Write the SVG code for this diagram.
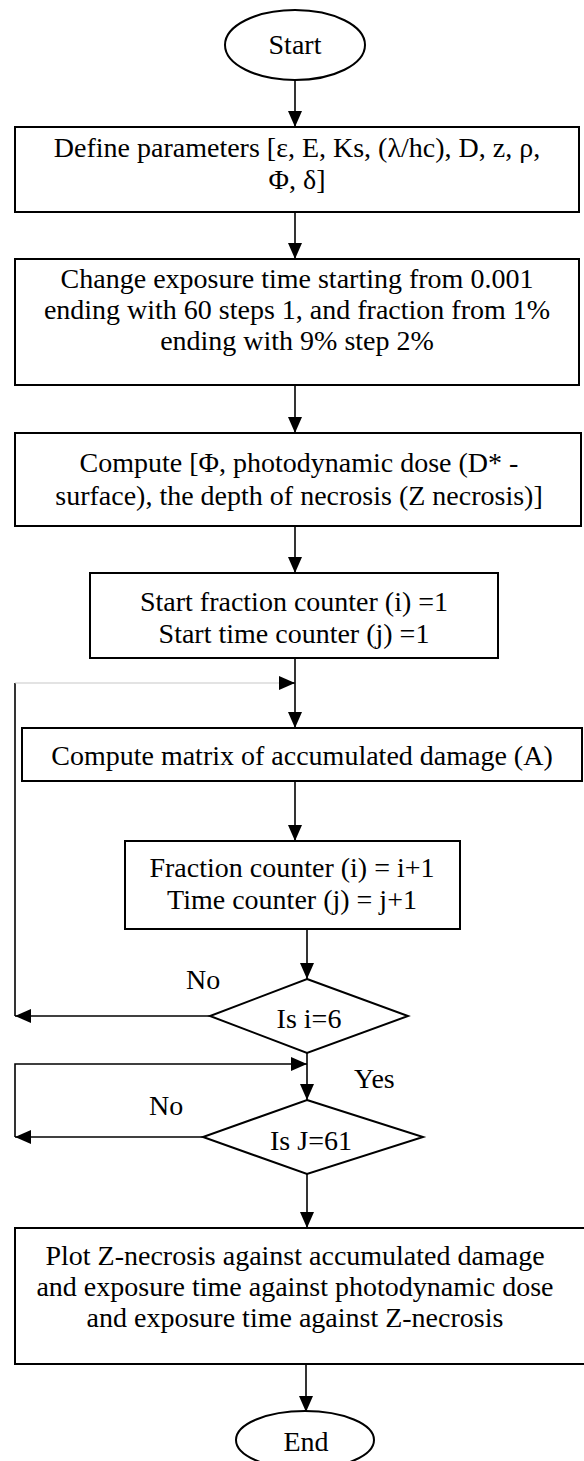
<svg xmlns="http://www.w3.org/2000/svg" width="584" height="1461" viewBox="0 0 584 1461">
<style>
.n{fill:#fff;stroke:#000;stroke-width:2}
.t{font-family:"Liberation Serif","Times New Roman",serif;font-size:28px;fill:#000;text-anchor:middle}
.l{font-family:"Liberation Serif","Times New Roman",serif;font-size:28px;fill:#000}
.c{fill:none;stroke:#000;stroke-width:1.6}
.g{fill:none;stroke:#c8c8c8;stroke-width:1.2}
</style>
<defs>
<marker id="ah" viewBox="0 0 16 14" refX="16" refY="7" markerWidth="16" markerHeight="14" markerUnits="userSpaceOnUse" orient="auto">
<path d="M0,0 L16,7 L0,14 Z" fill="#000"/>
</marker>
</defs>
<rect width="584" height="1461" fill="#fff"/>
<g id="connectors">
<line class="c" x1="295" y1="80" x2="295" y2="127" marker-end="url(#ah)"/>
<line class="c" x1="295" y1="212" x2="295" y2="259" marker-end="url(#ah)"/>
<line class="c" x1="295" y1="385" x2="295" y2="433" marker-end="url(#ah)"/>
<line class="c" x1="295" y1="526" x2="295" y2="573" marker-end="url(#ah)"/>
<line class="c" x1="295" y1="658" x2="295" y2="728" marker-end="url(#ah)"/>
<line class="c" x1="295" y1="781" x2="295" y2="841" marker-end="url(#ah)"/>
<line class="c" x1="307" y1="929" x2="307" y2="979" marker-end="url(#ah)"/>
<line class="c" x1="210" y1="1016" x2="15" y2="1016" marker-end="url(#ah)"/>
<line class="c" x1="15" y1="1016" x2="15" y2="683"/>
<line class="g" x1="15" y1="683" x2="295" y2="683"/>
<line class="c" x1="279" y1="683" x2="295" y2="683" marker-end="url(#ah)"/>
<line class="c" x1="307" y1="1053" x2="307" y2="1100" marker-end="url(#ah)"/>
<line class="c" x1="203" y1="1137" x2="15" y2="1137" marker-end="url(#ah)"/>
<polyline class="c" points="15,1137 15,1064 307,1064" marker-end="url(#ah)"/>
<line class="c" x1="307" y1="1174" x2="307" y2="1228" marker-end="url(#ah)"/>
<line class="c" x1="306" y1="1364" x2="306" y2="1412" marker-end="url(#ah)"/>
<text class="l" x="186" y="989">No</text>
<text class="l" x="354" y="1088">Yes</text>
<text class="l" x="149" y="1115">No</text>
</g>
<g id="start">
<ellipse class="n" cx="295" cy="45" rx="70" ry="35"/>
<text class="t" x="295" y="54">Start</text>
</g>
<g id="define">
<rect class="n" x="15" y="127" width="564" height="85"/>
<text class="t" x="297" y="157">Define parameters [ε, E, Ks, (λ/hc), D, z, ρ,</text>
<text class="t" x="297" y="189">Φ, δ]</text>
</g>
<g id="change">
<rect class="n" x="15" y="259" width="564" height="126"/>
<text class="t" x="297" y="288">Change exposure time starting from 0.001</text>
<text class="t" x="297" y="319">ending with 60 steps 1, and fraction from 1%</text>
<text class="t" x="297" y="350">ending with 9% step 2%</text>
</g>
<g id="compute">
<rect class="n" x="15" y="433" width="566" height="93"/>
<text class="t" x="299" y="472">Compute [Φ, photodynamic dose (D* -</text>
<text class="t" x="299" y="505">surface), the depth of necrosis (Z necrosis)]</text>
</g>
<g id="init">
<rect class="n" x="90" y="573" width="408" height="85"/>
<text class="t" x="294" y="611">Start fraction counter (i) =1</text>
<text class="t" x="294" y="643">Start time counter (j) =1</text>
</g>
<g id="matrix">
<rect class="n" x="22" y="728" width="560" height="53"/>
<text class="t" x="302" y="765">Compute matrix of accumulated damage (A)</text>
</g>
<g id="increment">
<rect class="n" x="125" y="841" width="335" height="88"/>
<text class="t" x="292" y="877">Fraction counter (i) = i+1</text>
<text class="t" x="292" y="909">Time counter (j) = j+1</text>
</g>
<g id="check-i">
<polygon class="n" points="307,979 408,1016 307,1053 210,1016"/>
<text class="t" x="309" y="1028">Is i=6</text>
</g>
<g id="check-j">
<polygon class="n" points="307,1100 423,1137 307,1174 203,1137"/>
<text class="t" x="311" y="1150">Is J=61</text>
</g>
<g id="plot">
<rect class="n" x="15" y="1228" width="580" height="136"/>
<text class="t" x="295" y="1265">Plot Z-necrosis against accumulated damage</text>
<text class="t" x="295" y="1296">and exposure time against photodynamic dose</text>
<text class="t" x="295" y="1327">and exposure time against Z-necrosis</text>
</g>
<g id="end">
<ellipse class="n" cx="305" cy="1440" rx="69" ry="29"/>
<text class="t" x="306" y="1451">End</text>
</g>
</svg>
